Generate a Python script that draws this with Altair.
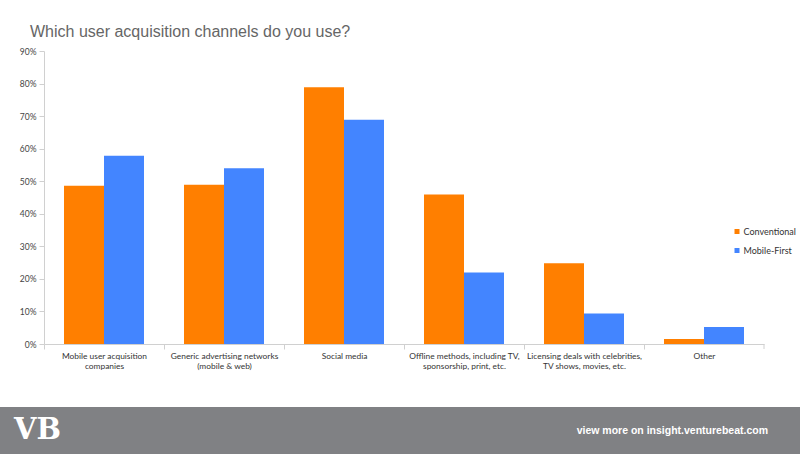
import altair as alt
import pandas as pd

# ---- data ----
categories = [
    "Mobile user acquisition\ncompanies",
    "Generic advertising networks\n(mobile & web)",
    "Social media",
    "Offline methods, including TV,\nsponsorship, print, etc.",
    "Licensing deals with celebrities,\nTV shows, movies, etc.",
    "Other",
]
series = ["Conventional", "Mobile-First"]
conventional = [0.486, 0.489, 0.789, 0.459, 0.248, 0.015]
mobile_first = [0.578, 0.540, 0.689, 0.220, 0.094, 0.052]
y_ticks = [0.0, 0.1, 0.2, 0.3, 0.4, 0.5, 0.6, 0.7, 0.8, 0.9]
colors = ["#FF7F00", "#4385FF"]
title_text = "Which user acquisition channels do you use?"
footer_logo = "VB"
footer_text = "view more on insight.venturebeat.com"

rows = []
for c, a, b in zip(categories, conventional, mobile_first):
    rows.append({"channel": c, "series": series[0], "value": a})
    rows.append({"channel": c, "series": series[1], "value": b})
df = pd.DataFrame(rows)

W, H = 720, 293
LABEL_FONT = "Lato"

bars = alt.Chart(df).mark_bar().encode(
    x=alt.X(
        "channel:N",
        sort=categories,
        scale=alt.Scale(paddingInner=1 / 3, paddingOuter=1 / 6),
        axis=alt.Axis(
            title=None,
            labelAngle=0,
            labelExpr="split(datum.label, '\\n')",
            labelFont=LABEL_FONT,
            labelFontSize=8.4,
            labelColor="#333333",
            labelLineHeight=10.7,
            labelPadding=2,
            tickOffset=-60,
            labelOffset=60,
            tickSize=5,
            tickColor="#d0d0d0",
            domainColor="#d0d0d0",
        ),
    ),
    xOffset=alt.XOffset("series:N", sort=series),
    y=alt.Y(
        "value:Q",
        scale=alt.Scale(domain=[0, 0.9], nice=False),
        axis=alt.Axis(
            title=None,
            values=y_ticks,
            format=".0%",
            grid=False,
            labelFont=LABEL_FONT,
            labelFontSize=8.5,
            labelColor="#444444",
            labelPadding=3,
            tickSize=5,
            tickColor="#d0d0d0",
            domainColor="#d0d0d0",
        ),
    ),
    color=alt.Color(
        "series:N",
        sort=series,
        scale=alt.Scale(domain=series, range=colors),
        legend=alt.Legend(
            title=None,
            orient="none",
            legendX=688.5,
            legendY=176,
            symbolType="square",
            symbolSize=25,
            symbolStrokeWidth=0,
            labelFont=LABEL_FONT,
            labelFontSize=9,
            labelColor="#333333",
            labelOffset=2,
            rowPadding=9,
            padding=0,
        ),
    ),
)

one = alt.Data(values=[{"k": 1}])

last_tick = alt.Chart(one).mark_rule(color="#d0d0d0").encode(
    x=alt.value(W), y=alt.value(H), y2=alt.value(H + 5)
)

title = alt.Chart(one).mark_text(
    text=title_text, align="left", baseline="alphabetic",
    font="Liberation Sans", fontSize=16, color="#666666",
).encode(x=alt.value(-14), y=alt.value(-14.3))

footer = alt.Chart(one).mark_rect(color="#808184").encode(
    x=alt.value(-44), x2=alt.value(756), y=alt.value(356), y2=alt.value(403)
)

logo = alt.Chart(one).mark_text(
    text=footer_logo, align="left", baseline="middle",
    font="DejaVu Serif", fontWeight="bold",
    fontSize=29, color="white",
).encode(x=alt.value(-30), y=alt.value(379))

ftext = alt.Chart(one).mark_text(
    text=footer_text, align="right", baseline="middle",
    font="Liberation Sans", fontWeight="bold",
    fontSize=10.5, color="white",
).encode(x=alt.value(724), y=alt.value(380))

chart = alt.layer(bars, last_tick, title, footer, logo, ftext).properties(
    width=W,
    height=H,
    autosize=alt.AutoSizeParams(type="none"),
    padding={"left": 44, "top": 51, "right": 36, "bottom": 110},
    background="white",
).configure_view(stroke=None)

chart.save("out.html", embed_options={"renderer": "svg", "actions": False})
